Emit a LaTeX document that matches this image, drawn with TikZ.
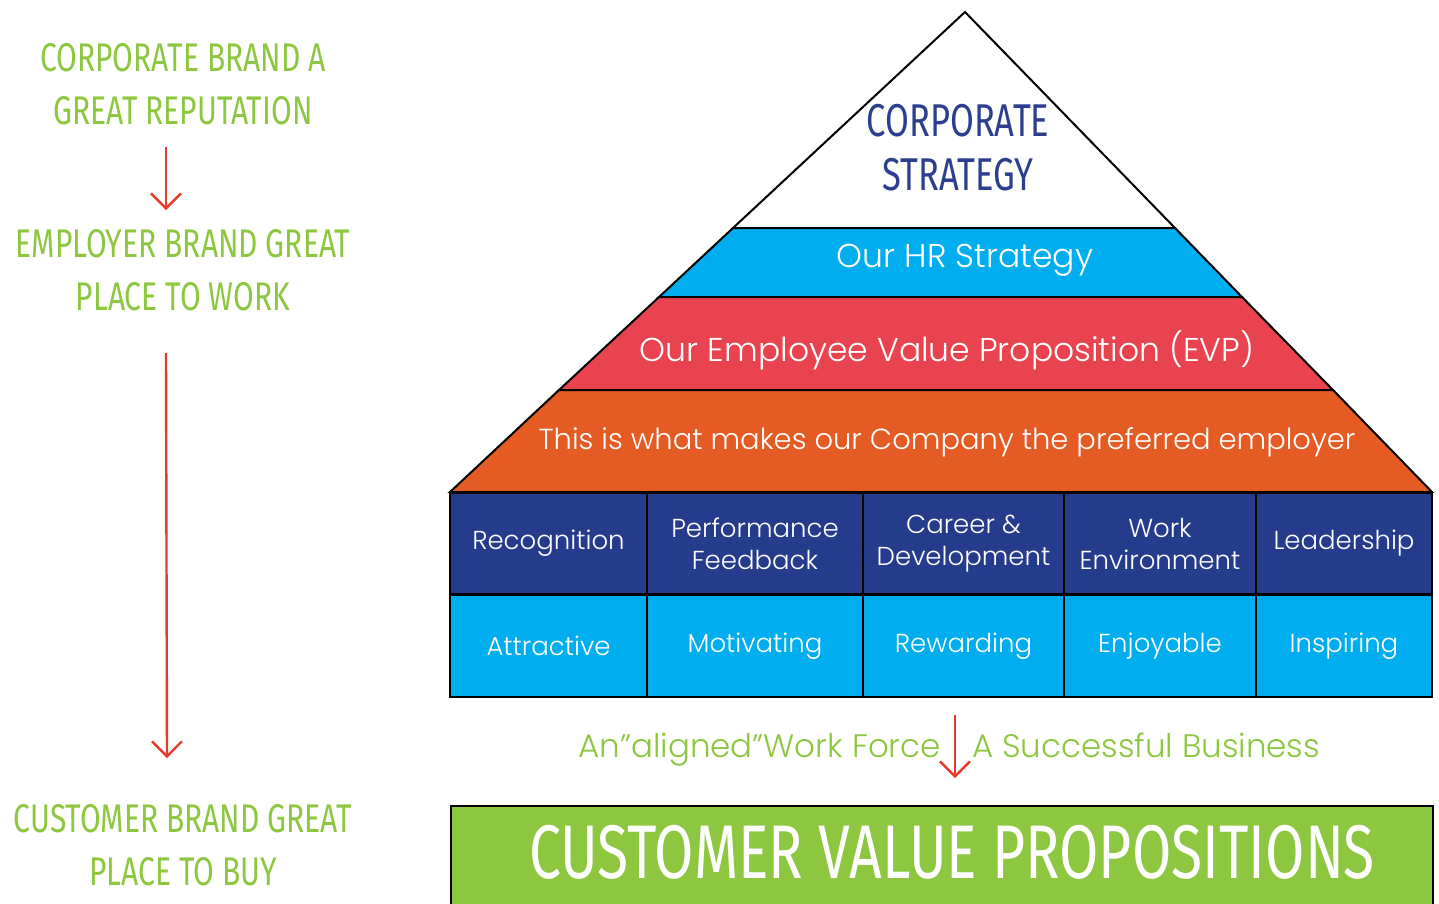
\documentclass[tikz,border=0pt]{standalone}
\usepackage{fontspec}
\setmainfont{Poppins Light}
\newfontfamily\handfont[FakeStretch=0.75]{Fira Sans}
\usetikzlibrary{arrows.meta, positioning, calc}
\definecolor{hrblue}{HTML}{00AEEF}
\definecolor{evpred}{HTML}{E8434F}
\definecolor{empor}{HTML}{E55B24}
\definecolor{navy}{HTML}{253B8B}
\definecolor{handgreen}{HTML}{8DC63F}
\definecolor{stratblue}{HTML}{2B3F8E}
\definecolor{arrowred}{HTML}{E63A2B}
\begin{document}
\begin{tikzpicture}[
  x=1pt, y=-1pt, >={Straight Barb[length=15pt, width=30pt]},
  band/.style={draw=black, line width=2pt},
  bandtxt/.style={text=white, font=\fontsize{33}{35}\selectfont},
  cell/.style={rectangle, draw=black, line width=2.2pt, text=white, align=center, inner sep=0pt, minimum height=102pt, font=\fontsize{26}{32}\selectfont},
  hand/.style={text=handgreen, align=center, font=\handfont\fontsize{40}{53}\selectfont},
  note/.style={text=handgreen, inner sep=0pt, font=\fontsize{32.5}{35}\selectfont},
  a/.style={->, draw=arrowred, line width=2.4pt}]
\useasboundingbox (0,0) rectangle (1439,903);
% pyramid
\draw[band, fill=white] (965,12) -- (1175,228) -- (733,228) -- cycle;
\draw[band, fill=hrblue] (733,228) -- (1175,228) -- (1242,297) -- (659,297) -- cycle;
\draw[band, fill=evpred] (659,297) -- (1242,297) -- (1333,390) -- (559,390) -- cycle;
\draw[band, fill=empor] (559,390) -- (1333,390) -- (1432,492) -- (450,492) -- cycle;
\node[hand, text=stratblue, font=\handfont\fontsize{46}{54}\selectfont] (cs) at (958,148) {CORPORATE\\STRATEGY};
\node[bandtxt] (hr) at (965,260) {Our HR Strategy};
\node[bandtxt] (evp) at (947,350) {Our Employee Value Proposition (EVP)};
\node[bandtxt, font=\fontsize{29}{35}\selectfont] (pe) at (947,442) {This is what makes our Company the preferred employer};
% drivers
\node[cell, fill=navy, minimum width=197pt] (rec) at (548.5,543.5) {Recognition};
\node[cell, fill=navy, minimum width=216pt] (pf) at (755,543.5) {Performance\\Feedback};
\node[cell, fill=navy, minimum width=201pt] (cd) at (963.5,543.5) {Career \&\\Development};
\node[cell, fill=navy, minimum width=192pt] (we) at (1160,543.5) {Work\\Environment};
\node[cell, fill=navy, minimum width=176pt] (ld) at (1344,543.5) {Leadership};
\node[cell, fill=hrblue, minimum width=197pt] (att) at (548.5,646) {Attractive};
\node[cell, fill=hrblue, minimum width=216pt] (mot) at (755,646) {Motivating};
\node[cell, fill=hrblue, minimum width=201pt] (rew) at (963.5,646) {Rewarding};
\node[cell, fill=hrblue, minimum width=192pt] (enj) at (1160,646) {Enjoyable};
\node[cell, fill=hrblue, minimum width=176pt] (ins) at (1344,646) {Inspiring};
% result
\node[note, anchor=base east] (awf) at (941,757) {An”aligned”Work Force};
\node[note, anchor=base west] (asb) at (972,757) {A Successful Business};
\coordinate (mt) at (955,715);
\coordinate (mb) at (955,778);
\draw[a] (mt) -- (mb);
\node[rectangle, draw=black, line width=2pt, fill=handgreen, anchor=north west, minimum width=982pt, minimum height=110pt] (cvp) at (450,805) {};
\node[hand, text=white, font=\handfont\fontsize{76}{80}\selectfont] (cvpt) at (952,852) {CUSTOMER VALUE PROPOSITIONS};
% brand chain
\node[hand] (cb) at (183,84) {CORPORATE BRAND A\\GREAT REPUTATION};
\node[hand] (eb) at (183,270) {EMPLOYER BRAND GREAT\\PLACE TO WORK};
\node[hand] (ub) at (183,845) {CUSTOMER BRAND GREAT\\PLACE TO BUY};
\coordinate (a1s) at (166,147);
\coordinate (a1e) at (166,210);
\coordinate (a2s) at (166,353);
\coordinate (a2e) at (167,758);
\draw[a] (a1s) -- (a1e);
\draw[a] (a2s) -- (a2e);
\end{tikzpicture}
\end{document}
